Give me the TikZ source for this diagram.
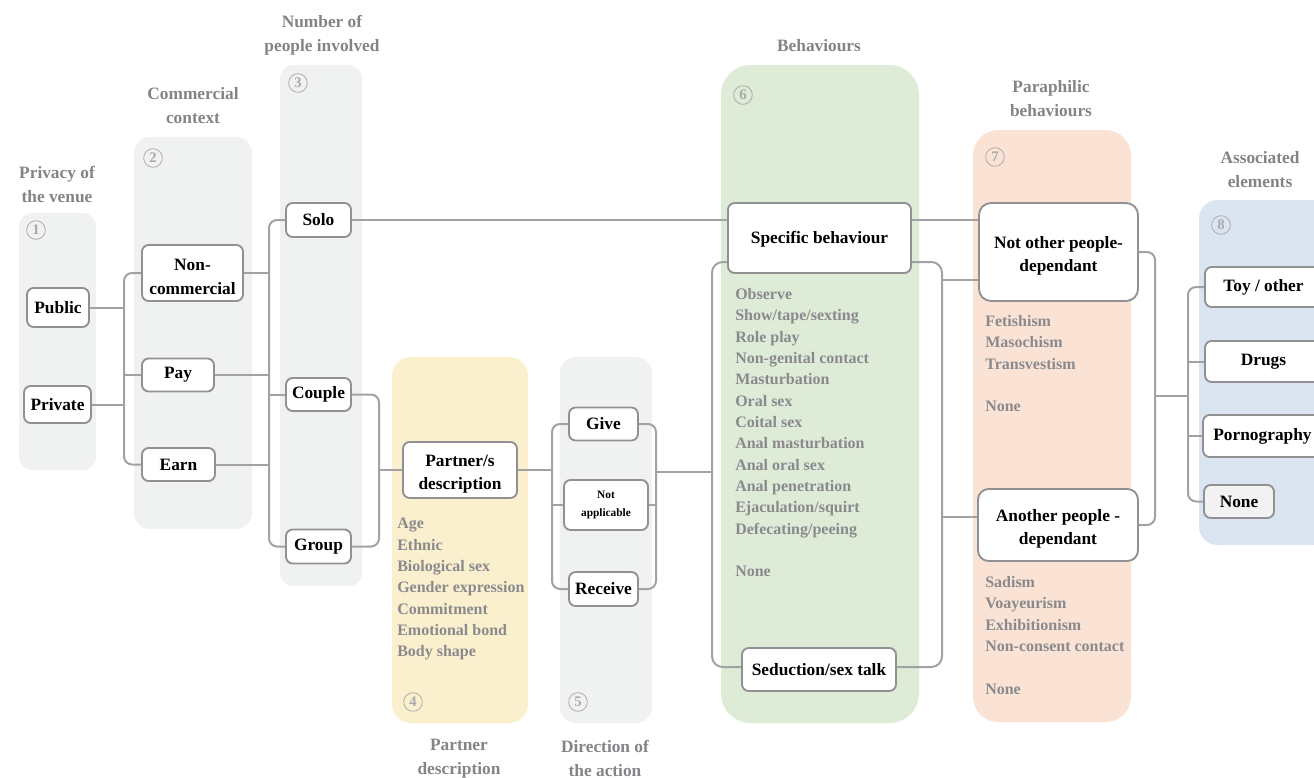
\documentclass[tikz,border=0pt]{standalone}
\usepackage{fontspec}
\setmainfont{Liberation Serif}
\usetikzlibrary{calc}
\definecolor{pgray}{RGB}{240,241,241}
\definecolor{pyellow}{RGB}{251,240,205}
\definecolor{pgreen}{RGB}{222,235,215}
\definecolor{porange}{RGB}{250,227,212}
\definecolor{pblue}{RGB}{219,228,241}
\definecolor{boxc}{RGB}{145,145,148}
\definecolor{linec}{RGB}{162,162,165}
\definecolor{hdrc}{RGB}{132,132,136}
\definecolor{lstc}{RGB}{138,138,142}
\definecolor{numc}{RGB}{170,170,173}
\definecolor{nonefill}{RGB}{242,242,242}
\newcommand\tstr{\rule{0pt}{14.5pt}}
\pgfdeclarelayer{panels}
\pgfdeclarelayer{wires}
\pgfsetlayers{panels,wires,main}
\tikzset{
  sz/.style 2 args={minimum width=#1*0.75pt, minimum height=#2*0.75pt},
  box/.style={draw=boxc, line width=1.4pt, fill=white, rounded corners=5pt,
    font=\bfseries\fontsize{13}{17.5}\selectfont, align=center, inner sep=0pt, text=black},
  conn/.style={draw=linec, line width=1.5pt, rounded corners=6pt},
  hdr/.style={text=hdrc, font=\bfseries\fontsize{13}{18}\selectfont, align=center, inner sep=0pt},
  lst/.style={text=lstc, font=\bfseries\fontsize{12}{16}\selectfont, align=left, anchor=north west, inner sep=0pt},
  num/.style={circle, draw=numc, line width=0.6pt, minimum size=14pt, inner sep=0pt, text=numc,
    font=\bfseries\fontsize{11}{11}\selectfont},
}
\begin{document}
\begin{tikzpicture}[x=0.75pt,y=-0.75pt]
\useasboundingbox (0,0) rectangle (1314,778);
\clip (0,0) rectangle (1314,778);

% ---------- panels ----------
\begin{pgfonlayer}{panels}
\fill[pgray, rounded corners=10pt] (19,213) rectangle (96,470);
\fill[pgray, rounded corners=12pt] (134,137) rectangle (252,529);
\fill[pgray, rounded corners=10pt] (280,65) rectangle (362,586);
\fill[pyellow, rounded corners=14pt] (392,357) rectangle (528,723);
\fill[pgray, rounded corners=12pt] (560,357) rectangle (652,723);
\fill[pgreen, rounded corners=22pt] (721,65) rectangle (919,723);
\fill[porange, rounded corners=19pt] (973,130) rectangle (1131,722);
\fill[pblue, rounded corners=14pt] (1199,200) rectangle (1330,545);
\end{pgfonlayer}

% ---------- number circles ----------
\node[num] (n1) at (36,230) {1};
\node[num] (n2) at (153,158) {2};
\node[num] (n3) at (298,83) {3};
\node[num] (n4) at (413,702) {4};
\node[num] (n5) at (578,702) {5};
\node[num] (n6) at (743,95) {6};
\node[num] (n7) at (995,157) {7};
\node[num] (n8) at (1221,225) {8};

% ---------- headers ----------
\node[hdr] (h1) at (57,185) {Privacy of\\the venue};
\node[hdr] (h2) at (193,105.5) {Commercial\\context};
\node[hdr] (h3) at (322,35) {Number of\\people involved};
\node[hdr] (h4) at (459,758.5) {Partner\\description};
\node[hdr] (h5) at (605,758.5) {Direction of\\the action};
\node[hdr] (h6) at (819,46) {Behaviours};
\node[hdr] (h7) at (1051,99) {Paraphilic\\behaviours};
\node[hdr] (h8) at (1260,169.5) {Associated\\elements};

% ---------- boxes ----------
\node[box, sz={62}{39}] (pub) at (58,307.5) {Public};
\node[box, sz={67}{37}] (priv) at (57.5,404.5) {Private};
\node[box, sz={101}{56}] (noncom) at (192.5,273) {\tstr Non-\\commercial};
\node[box, sz={72}{33}] (pay) at (178,375) {Pay};
\node[box, sz={73}{33}] (earn) at (178.5,464.5) {Earn};
\node[box, sz={65}{34}] (solo) at (318.5,220) {Solo};
\node[box, sz={65}{33}] (couple) at (318.5,394.5) {Couple};
\node[box, sz={65}{34}] (group) at (318.5,546.5) {Group};
\node[box, sz={114}{56}] (partner) at (460,470) {\tstr Partner/s\\description};
\node[box, sz={69}{33}] (give) at (603.5,424) {Give};
\node[box, sz={84}{50}, font=\bfseries\fontsize{8.5}{13}\selectfont] (notapp) at (606,505) {Not\\applicable};
\node[box, sz={69}{34}] (receive) at (603.5,589) {Receive};
\node[box, sz={183}{70}] (specific) at (819.5,238) {\rule{0pt}{11pt}Specific behaviour};
\node[box, sz={154}{43}] (seduction) at (819,669.5) {Seduction/sex talk};
\node[box, sz={159}{98}, rounded corners=9pt] (notother) at (1058.5,252) {\tstr Not other people-\\dependant};
\node[box, sz={160}{72}, rounded corners=8pt] (another) at (1058,525) {\tstr Another people -\\dependant};
\node[box, sz={117}{40}] (toy) at (1263.5,287) {Toy / other};
\node[box, sz={117}{41}] (drugs) at (1263.5,361.5) {Drugs};
\node[box, sz={119}{42}] (porn) at (1262.5,436) {Pornography};
\node[box, sz={70}{33}, fill=nonefill] (none8) at (1239,501.5) {None};

% ---------- lists ----------
\node[lst] (l4) at (397,518) {Age\\Ethnic\\Biological sex\\Gender expression\\Commitment\\Emotional bond\\Body shape};
\node[lst] (l6) at (735,288) {Observe\\Show/tape/sexting\\Role play\\Non-genital contact\\Masturbation\\Oral sex\\Coital sex\\Anal masturbation\\Anal oral sex\\Anal penetration\\Ejaculation/squirt\\Defecating/peeing\\[16pt]None};
\node[lst] (l7a) at (985,315) {Fetishism\\Masochism\\Transvestism\\[16pt]None};
\node[lst] (l7b) at (985,576) {Sadism\\Voayeurism\\Exhibitionism\\Non-consent contact\\[16pt]None};

% ---------- bus coordinates ----------
\coordinate (b1) at (124,0);
\coordinate (b2) at (269,0);
\coordinate (b3) at (379,0);
\coordinate (b4) at (552,0);
\coordinate (b5) at (656,0);
\coordinate (j5) at (656,472);
\coordinate (rtl) at (712,262);
\coordinate (rbr) at (942,667);
\coordinate (rr1) at (942,280);
\coordinate (rr2) at (942,517);
\coordinate (b6) at (1155,0);
\coordinate (j6) at (1155,396);
\coordinate (b7) at (1188,0);

% ---------- connectors ----------
\begin{pgfonlayer}{wires}
\draw[conn] (noncom.west) -- (noncom.west -| b1) -- (earn.west -| b1) -- (earn.west);
\draw[conn] (pub.east) -- (pub.east -| b1);
\draw[conn] (priv.east) -- (priv.east -| b1);
\draw[conn] (pay.west) -- (pay.west -| b1);

\draw[conn] (solo.west) -- (solo.west -| b2) -- (group.west -| b2) -- (group.west);
\draw[conn] (noncom.east) -- (noncom.east -| b2);
\draw[conn] (pay.east) -- (pay.east -| b2);
\draw[conn] (earn.east) -- (earn.east -| b2);
\draw[conn] (couple.west) -- (couple.west -| b2);

\draw[conn] (solo.east) -- (solo.east -| notother.west);

\draw[conn] (couple.east) -- (couple.east -| b3) -- (group.east -| b3) -- (group.east);
\draw[conn] (partner.west) -- (partner.west -| b3);

\draw[conn] (give.west) -- (give.west -| b4) -- (receive.west -| b4) -- (receive.west);
\draw[conn] (notapp.west) -- (notapp.west -| b4);
\draw[conn] (partner.east) -- (partner.east -| b4);

\draw[conn] (give.east) -- (give.east -| b5) -- (receive.east -| b5) -- (receive.east);
\draw[conn] (notapp.east) -- (notapp.east -| b5);
\draw[conn] (j5) -- (j5 -| rtl);

\draw[conn, rounded corners=8pt] (rtl) rectangle (rbr);
\draw[conn] (rr1) -- (rr1 -| notother.west);
\draw[conn] (rr2) -- (rr2 -| another.west);

\draw[conn] (notother.east) -- (notother.east -| b6) -- (another.east -| b6) -- (another.east);
\draw[conn] (j6) -- (j6 -| b7);

\draw[conn] (toy.west) -- (toy.west -| b7) -- (none8.west -| b7) -- (none8.west);
\draw[conn] (drugs.west) -- (drugs.west -| b7);
\draw[conn] (porn.west) -- (porn.west -| b7);
\end{pgfonlayer}
\end{tikzpicture}
\end{document}
